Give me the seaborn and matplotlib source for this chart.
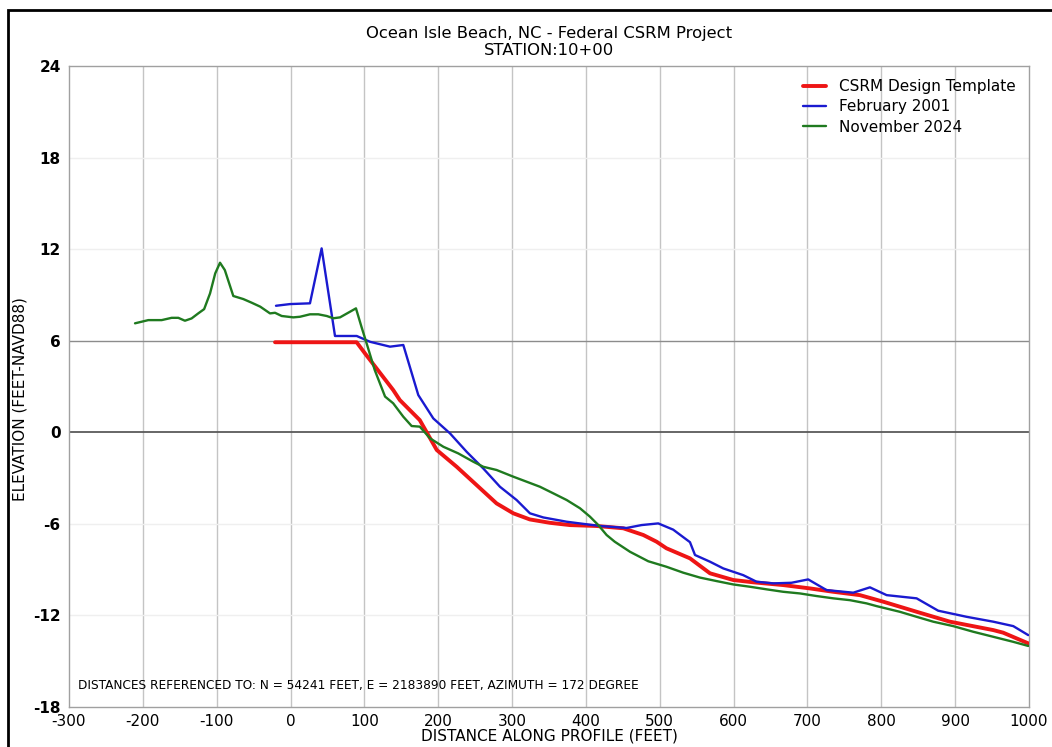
import numpy as np
import pandas as pd
import seaborn as sns
import matplotlib.pyplot as plt
from matplotlib.patches import Rectangle

sns.set_theme(style="white")
plt.rcParams['font.family'] = ['DejaVu Sans']
plt.rcParams['axes.unicode_minus'] = False
plt.rcParams['text.color'] = 'black'
plt.rcParams['axes.labelcolor'] = 'black'
plt.rcParams['xtick.color'] = 'black'
plt.rcParams['ytick.color'] = 'black'

# CSRM design template
design_x = [-21, 89.5, 100.8, 139, 148, 175, 198, 225, 252, 279, 301.7, 324, 351, 378.4, 414.5,
            450.6, 477.7, 495.7, 509, 540.9, 568, 599.6, 626.7, 667, 703.4, 734.9, 771, 802.6,
            847.8, 893, 951.6, 965, 999]
design_y = [5.9, 5.9, 5.17, 2.77, 2.11, 0.8, -1.16, -2.26, -3.46, -4.66, -5.31, -5.71, -5.93, -6.08, -6.14,
            -6.29, -6.73, -7.17, -7.6, -8.26, -9.24, -9.68, -9.83, -10.01, -10.23, -10.45, -10.67, -11.1,
            -11.76, -12.41, -12.96, -13.13, -13.83]

# February 2001 survey
feb_x = [-19.7, -0.8, 26.3, 42.1, 60.2, 89.6, 107.6, 134.7, 152.7, 173, 193.3, 215.9, 238.5, 261,
         283.6, 306.2, 324.2, 342.3, 373.9, 419, 455, 475.3, 497.9, 518.2, 540.9, 547.7, 568, 586,
         613, 631, 653.6, 678.4, 701, 725.9, 762, 784.6, 807.2, 847.8, 877, 915.5, 951.6, 978.7, 999]
feb_y = [8.29, 8.40, 8.45, 12.05, 6.31, 6.31, 5.93, 5.61, 5.72, 2.44, 0.91, -0.07, -1.28, -2.37,
         -3.57, -4.44, -5.31, -5.58, -5.86, -6.14, -6.27, -6.08, -5.97, -6.38, -7.2, -8.04, -8.48, -8.92,
         -9.36, -9.79, -9.90, -9.86, -9.64, -10.34, -10.51, -10.16, -10.67, -10.88, -11.69, -12.09, -12.41, -12.70, -13.29]

# November 2024 survey
nov_x = [-210.6, -192.6, -174.5, -161, -152, -143, -134, -125, -117, -109, -102, -95.5, -89, -77.5,
         -64, -52.6, -41, -27.8, -21, -12, 3.7, 12.8, 26.3, 37.6, 49, 58, 67, 78, 88.6, 96, 103, 114,
         128, 139, 152.7, 164, 175, 189, 207, 227, 247.5, 261, 279, 301.7, 319.8, 337.8, 355.8, 374,
         392, 405.5, 416.8, 428, 439, 459.7, 484.4, 509, 531.8, 554.4, 577, 599.6, 622, 644.6, 667,
         689.9, 712.4, 734.9, 757.5, 780, 793.6, 825, 847.8, 870.3, 897.4, 924.5, 951.6, 978.7, 999]
nov_y = [7.14, 7.35, 7.35, 7.5, 7.5, 7.31, 7.46, 7.79, 8.07, 9.1, 10.41, 11.11, 10.63, 8.93,
         8.73, 8.49, 8.23, 7.79, 7.83, 7.62, 7.53, 7.57, 7.73, 7.73, 7.62, 7.47, 7.53, 7.83, 8.12, 6.92, 5.83, 4.08,
         2.34, 1.9, 1.02, 0.41, 0.37, -0.40, -0.95, -1.38, -1.93, -2.26, -2.47, -2.91, -3.24, -3.57, -4.0, -4.44,
         -4.98, -5.53, -6.08, -6.73, -7.17, -7.83, -8.45, -8.81, -9.2, -9.52, -9.75, -9.97, -10.12, -10.29, -10.45,
         -10.56, -10.73, -10.88, -11.0, -11.21, -11.39, -11.76, -12.09, -12.41, -12.70, -13.07, -13.40, -13.73, -14.0]

names = ["CSRM Design Template", "February 2001", "November 2024"]
colors = ["#ee1515", "#1a1ad0", "#1f7a1f"]
widths = [2.8, 1.7, 1.7]

df = pd.concat([
    pd.DataFrame({"x": design_x, "y": design_y, "survey": names[0]}),
    pd.DataFrame({"x": feb_x, "y": feb_y, "survey": names[1]}),
    pd.DataFrame({"x": nov_x, "y": nov_y, "survey": names[2]}),
], ignore_index=True)

fig = plt.figure(figsize=(10.52, 7.47), dpi=100)
ax = fig.add_axes([69/1052, 40/747, 960/1052, 641/747])

# grid
for gx in range(-200, 1000, 100):
    ax.axvline(gx, color="#c4c4c4", lw=1.0, zorder=0)
for gy in [18, 12, -6, -12]:
    ax.axhline(gy, color="#efefef", lw=1.0, zorder=0)
ax.axhline(6, color="#8c8c8c", lw=1.0, zorder=0)
ax.axhline(0, color="#5a5a5a", lw=1.3, zorder=0)

for name, c, w in zip(names, colors, widths):
    sub = df[df["survey"] == name]
    sns.lineplot(data=sub, x="x", y="y", sort=False, color=c, lw=w, ax=ax, label=name,
                 estimator=None, zorder=3)

ax.set_xlim(-300, 1000)
ax.set_ylim(-18, 24)
ax.set_xticks(range(-300, 1001, 100))
ax.set_yticks(range(-18, 25, 6))
ax.tick_params(axis="both", labelsize=11, length=4, color="#888888", pad=2)
ax.tick_params(axis="x", pad=1)
for lab in ax.get_yticklabels():
    lab.set_fontweight("bold")
for s in ax.spines.values():
    s.set_color("#a0a0a0")
    s.set_linewidth(1.0)

ax.set_xlabel("DISTANCE ALONG PROFILE (FEET)", fontsize=11, labelpad=0)
ax.set_ylabel("ELEVATION (FEET-NAVD88)", fontsize=11)
ax.yaxis.set_label_coords(-0.043, 0.48)
ax.set_title("Ocean Isle Beach, NC - Federal CSRM Project\nSTATION:10+00", fontsize=11.8,
             linespacing=1.15, pad=8)

ax.text(0.0095, 0.024, "DISTANCES REFERENCED TO: N = 54241 FEET, E = 2183890 FEET, AZIMUTH = 172 DEGREE",
        transform=ax.transAxes, fontsize=8.7, va="bottom", ha="left")

leg = ax.legend(loc="upper right", frameon=False, fontsize=11, handlelength=1.5,
                handletextpad=0.9, labelspacing=0.35, borderaxespad=0.45)

# outer frame (left/top edges visible)
fig.patches.append(Rectangle((8/1052, -0.05), 1.2, 1 - 10/747 + 0.05, transform=fig.transFigure,
                             fill=False, edgecolor="black", lw=2.0))

fig.savefig("out.png", dpi=100)
